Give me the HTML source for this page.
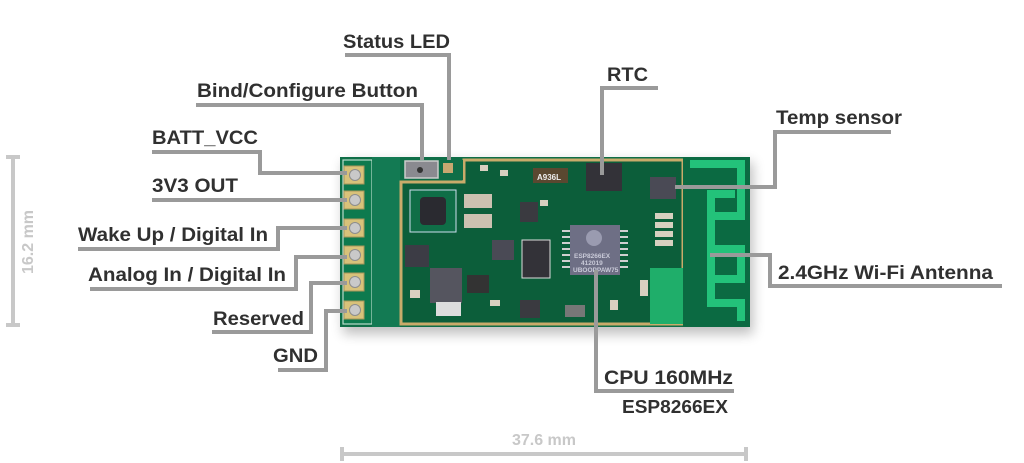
<!DOCTYPE html>
<html><head><meta charset="utf-8"><style>
html,body{margin:0;padding:0;background:#fff;width:1024px;height:463px;overflow:hidden}
text{font-family:"Liberation Sans",sans-serif;font-weight:bold}
</style></head><body>
<svg width="1024" height="463" viewBox="0 0 1024 463" xmlns="http://www.w3.org/2000/svg">
<defs><filter id="sh" x="-10%" y="-20%" width="120%" height="140%"><feGaussianBlur stdDeviation="6"/></filter></defs>
<rect x="343" y="162" width="410" height="172" fill="#000" opacity="0.25" filter="url(#sh)"/>
<rect x="340" y="157" width="410" height="170" fill="#0f6e47"/>
<rect x="343" y="160" width="29" height="164" fill="#0d7a4e" stroke="#b9dccb" stroke-width="1.2"/>
<rect x="372" y="157" width="28" height="170" fill="#137a53"/>
<g fill="#d8c27a" stroke="#a9955a" stroke-width="1">
<rect x="344" y="166" width="20" height="18"/><rect x="344" y="191" width="20" height="18"/><rect x="344" y="219" width="20" height="18"/>
<rect x="344" y="246" width="20" height="18"/><rect x="344" y="273" width="20" height="18"/><rect x="344" y="301" width="20" height="18"/>
</g>
<g fill="#c9c9c9" stroke="#8d8d8d"><circle cx="355" cy="175" r="5.5"/><circle cx="355" cy="200" r="5.5"/><circle cx="355" cy="228" r="5.5"/><circle cx="355" cy="255" r="5.5"/><circle cx="355" cy="282" r="5.5"/><circle cx="355" cy="310" r="5.5"/></g>
<path d="M401 182 L401 324 L683 324 L683 160 L464 160 L464 182 Z" fill="#0c5e3a" stroke="#c9ab6a" stroke-width="3"/>
<rect x="403" y="160" width="60" height="20" fill="#0f6e47"/>
<rect x="405" y="161" width="33" height="17" fill="#8a8a90" stroke="#ccc" stroke-width="1.5"/>
<circle cx="420" cy="170" r="3" fill="#333"/>
<rect x="443" y="163" width="10" height="10" fill="#c7a870"/>
<rect x="410" y="190" width="46" height="42" fill="#0f6e47" stroke="#cde" stroke-width="1"/>
<rect x="420" y="197" width="26" height="28" rx="4" fill="#2a2a30"/>
<rect x="464" y="194" width="28" height="14" fill="#ccc1b0"/><rect x="464" y="214" width="28" height="14" fill="#ccc1b0"/>
<rect x="533" y="168" width="35" height="15" fill="#5a4830"/><text x="537" y="180" font-size="8" fill="#eee">A936L</text>
<rect x="586" y="163" width="36" height="28" fill="#333238"/>
<rect x="650" y="177" width="26" height="22" fill="#4a4a55"/>
<rect x="570" y="225" width="50" height="50" fill="#6e6f85"/>
<circle cx="594" cy="238" r="8" fill="#9a9bb0"/>
<text x="574" y="258" font-size="6.5" fill="#c9cad8" font-weight="normal">ESP8266EX</text>
<text x="581" y="265" font-size="6.5" fill="#c9cad8" font-weight="normal">412019</text>
<text x="573" y="272" font-size="6.5" fill="#c9cad8" font-weight="normal">UBOOPPAW75</text>
<g fill="#d0d0d0"><rect x="562" y="230" width="8" height="2"/><rect x="562" y="236" width="8" height="2"/><rect x="562" y="242" width="8" height="2"/><rect x="562" y="248" width="8" height="2"/><rect x="562" y="254" width="8" height="2"/><rect x="562" y="260" width="8" height="2"/><rect x="562" y="266" width="8" height="2"/>
<rect x="620" y="230" width="8" height="2"/><rect x="620" y="236" width="8" height="2"/><rect x="620" y="242" width="8" height="2"/><rect x="620" y="248" width="8" height="2"/><rect x="620" y="254" width="8" height="2"/><rect x="620" y="260" width="8" height="2"/><rect x="620" y="266" width="8" height="2"/></g>
<rect x="522" y="240" width="28" height="38" fill="#333238" stroke="#ddd" stroke-width="1"/>
<rect x="492" y="240" width="22" height="20" fill="#4a4a55"/>
<rect x="520" y="202" width="18" height="20" fill="#3a3a40"/>
<rect x="405" y="245" width="24" height="22" fill="#3c3c45"/>
<rect x="430" y="268" width="32" height="35" fill="#55555f"/>
<rect x="436" y="302" width="25" height="14" fill="#ddd"/>
<rect x="467" y="275" width="22" height="18" fill="#333"/>
<rect x="520" y="300" width="20" height="18" fill="#3a3a40"/>
<rect x="565" y="305" width="20" height="12" fill="#777"/>
<g fill="#d8d0c0"><rect x="655" y="213" width="18" height="6"/><rect x="655" y="222" width="18" height="6"/><rect x="655" y="231" width="18" height="6"/><rect x="655" y="240" width="18" height="6"/><rect x="480" y="165" width="8" height="6"/><rect x="500" y="170" width="8" height="6"/><rect x="540" y="200" width="8" height="6"/><rect x="640" y="280" width="8" height="16"/><rect x="610" y="300" width="8" height="10"/><rect x="490" y="300" width="10" height="6"/><rect x="410" y="290" width="10" height="8"/></g>
<path d="M650 268 L683 268 L683 324 L650 324 Z" fill="#1fae6a"/>
<rect x="683" y="157" width="67" height="170" fill="#0b6a42"/>
<g fill="#23c27a">
<rect x="690" y="160" width="55" height="8"/>
<rect x="737" y="160" width="8" height="60"/>
<rect x="707" y="212" width="38" height="8"/>
<rect x="707" y="190" width="8" height="117"/>
<rect x="707" y="190" width="28" height="8"/>
<rect x="707" y="245" width="38" height="8"/>
<rect x="737" y="245" width="8" height="30"/>
<rect x="707" y="275" width="38" height="8"/>
<rect x="707" y="299" width="38" height="8"/>
<rect x="737" y="299" width="8" height="22"/>
</g>
<g fill="none" stroke="#9a9a9a" stroke-width="4" stroke-linejoin="miter">
<polyline points="345,55 449,55 449,160"/>
<polyline points="196,105 422,105 422,160"/>
<polyline points="152,152 260,152 260,173 347,173"/>
<polyline points="152,200 347,200"/>
<polyline points="78,249 278,249 278,228 347,228"/>
<polyline points="90,289 296,289 296,257 347,257"/>
<polyline points="212,332 311,332 311,283 347,283"/>
<polyline points="278,370 326,370 326,311 347,311"/>
<polyline points="658,88 602,88 602,175"/>
<polyline points="891,132 775,132 775,187 675,187"/>
<polyline points="710,255 770,255 770,286 1002,286"/>
<polyline points="596,270 596,391 734,391"/>
</g>
<g fill="#303030" font-size="19">
<text x="343" y="48" textLength="107" lengthAdjust="spacingAndGlyphs">Status LED</text>
<text x="197" y="97" textLength="221" lengthAdjust="spacingAndGlyphs">Bind/Configure Button</text>
<text x="152" y="144" textLength="106" lengthAdjust="spacingAndGlyphs">BATT_VCC</text>
<text x="152" y="192" textLength="86" lengthAdjust="spacingAndGlyphs">3V3 OUT</text>
<text x="78" y="241" textLength="190" lengthAdjust="spacingAndGlyphs">Wake Up / Digital In</text>
<text x="88" y="281" textLength="198" lengthAdjust="spacingAndGlyphs">Analog In / Digital In</text>
<text x="213" y="325" textLength="91" lengthAdjust="spacingAndGlyphs">Reserved</text>
<text x="273" y="362" textLength="45" lengthAdjust="spacingAndGlyphs">GND</text>
<text x="607" y="81" textLength="41" lengthAdjust="spacingAndGlyphs">RTC</text>
<text x="776" y="124" textLength="126" lengthAdjust="spacingAndGlyphs">Temp sensor</text>
<text x="778" y="279" textLength="215" lengthAdjust="spacingAndGlyphs">2.4GHz Wi-Fi Antenna</text>
<text x="604" y="384" textLength="129" lengthAdjust="spacingAndGlyphs">CPU 160MHz</text>
<text x="622" y="413" font-size="18" textLength="106" lengthAdjust="spacingAndGlyphs">ESP8266EX</text>
</g>
<g stroke="#c8c8c8" stroke-width="4" fill="none">
<line x1="13" y1="157" x2="13" y2="325"/><line x1="6" y1="157" x2="20" y2="157"/><line x1="6" y1="325" x2="20" y2="325"/>
<line x1="342" y1="454" x2="746" y2="454"/><line x1="342" y1="447" x2="342" y2="461"/><line x1="746" y1="447" x2="746" y2="461"/>
</g>
<text x="0" y="0" font-size="16" fill="#c8c8c8" text-anchor="middle" transform="translate(33,242) rotate(-90)">16.2 mm</text>
<text x="544" y="445" font-size="16" fill="#c8c8c8" text-anchor="middle">37.6 mm</text>
</svg>
</body></html>
